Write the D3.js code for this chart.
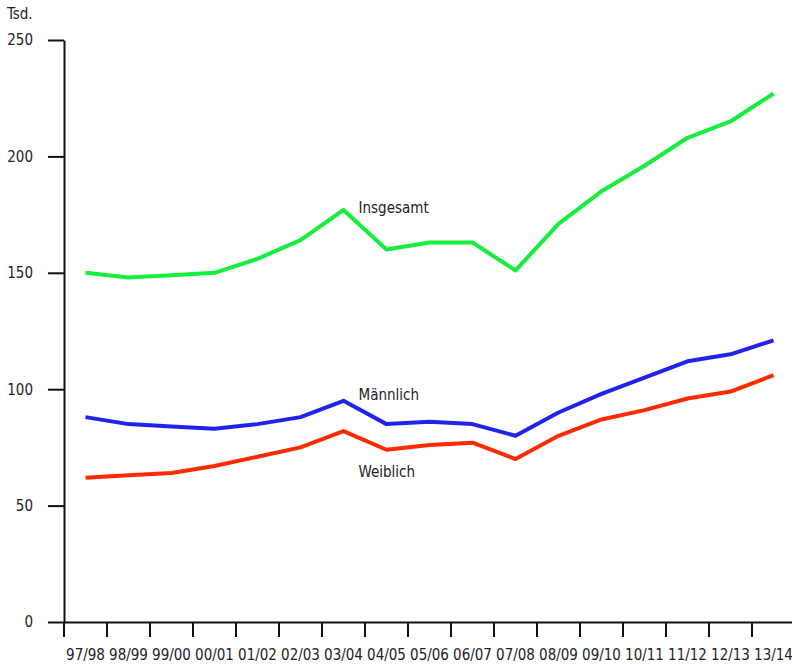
<!DOCTYPE html>
<html>
<head>
<meta charset="utf-8">
<script src="https://cdn.jsdelivr.net/npm/d3@7"></script>
<style>
  body { margin: 0; background: #fff; }
  svg text { font-family: "DejaVu Sans Condensed", "Liberation Sans Narrow", sans-serif; font-stretch: condensed; fill: #222; }
  .axis path, .axis line { stroke: #111; stroke-width: 2px; }
</style>
</head>
<body>
<div id="chart"></div>
<script>
var years = ["97/98", "98/99", "99/00", "00/01", "01/02", "02/03", "03/04", "04/05", "05/06",
             "06/07", "07/08", "08/09", "09/10", "10/11", "11/12", "12/13", "13/14"];
var insgesamt = [150, 148, 149, 150, 156, 164, 177, 160, 163, 163, 151, 171, 185, 196, 208, 215, 227];
var maennlich = [88, 85, 84, 83, 85, 88, 95, 85, 86, 85, 80, 90, 98, 105, 112, 115, 121];
var weiblich  = [62, 63, 64, 67, 71, 75, 82, 74, 76, 77, 70, 80, 87, 91, 96, 99, 106];
var yTicks = [0, 50, 100, 150, 200, 250];
var unitLabel = "Tsd.";

function buildChart(section_id) {
    var series = [
      {name: "Insgesamt", values: insgesamt, color: "#14ee3c", labelAt: "03/04", dy: 3},
      {name: "Männlich", values: maennlich, color: "#2222ee", labelAt: "03/04", dy: -1},
      {name: "Weiblich", values: weiblich, color: "#ff2a00", labelAt: "03/04", dy: 46}
    ];

    var width = 792, height = 666;
    var margin = {top: 40, right: -3, bottom: 44, left: 64};

    var svg = d3.select(section_id).append("svg")
        .attr("width", width)
        .attr("height", height);

    var xScale = d3.scaleBand().domain(years)
        .range([margin.left, width - margin.right]).padding(0);
    var yScale = d3.scaleLinear().domain([0, 250])
        .range([height - margin.bottom, margin.top]);

    var xAxis = d3.axisBottom(xScale).tickSizeInner(15).tickSizeOuter(0).tickPadding(12);
    var yAxis = d3.axisLeft(yScale).tickValues(yTicks).tickSizeInner(16).tickSizeOuter(0).tickPadding(15);

    var gx = svg.append("g")
        .attr("class", "axis axis--x")
        .attr("transform", "translate(0," + (height - margin.bottom) + ")")
        .call(xAxis);
    // tick marks sit between the categories
    gx.selectAll(".tick line")
        .attr("x1", -xScale.bandwidth() / 2)
        .attr("x2", -xScale.bandwidth() / 2);
    gx.selectAll("text").style("font-size", "15px");

    var gy = svg.append("g")
        .attr("class", "axis axis--y")
        .attr("transform", "translate(" + margin.left + ",0)")
        .call(yAxis);
    gy.selectAll("text").style("font-size", "15px");

    svg.append("text")
        .attr("x", 7)
        .attr("y", 19)
        .style("font-size", "15px")
        .text(unitLabel);

    var line = d3.line()
        .x(function(d, i) { return xScale(years[i]) + xScale.bandwidth() / 2; })
        .y(function(d) { return yScale(d); });

    var trends = svg.selectAll(".trend")
        .data(series)
        .enter().append("g")
        .attr("class", "trend");

    trends.append("path")
        .attr("d", function(d) { return line(d.values); })
        .style("fill", "none")
        .style("stroke", function(d) { return d.color; })
        .style("stroke-width", "4px")
        .style("stroke-linejoin", "round");

    trends.append("text")
        .attr("x", function(d) { return xScale(d.labelAt) + xScale.bandwidth() / 2 + 15; })
        .attr("y", function(d) { return yScale(d.values[years.indexOf(d.labelAt)]) + d.dy; })
        .style("font-size", "15px")
        .text(function(d) { return d.name; });
}

buildChart("#chart");
</script>
</body>
</html>
